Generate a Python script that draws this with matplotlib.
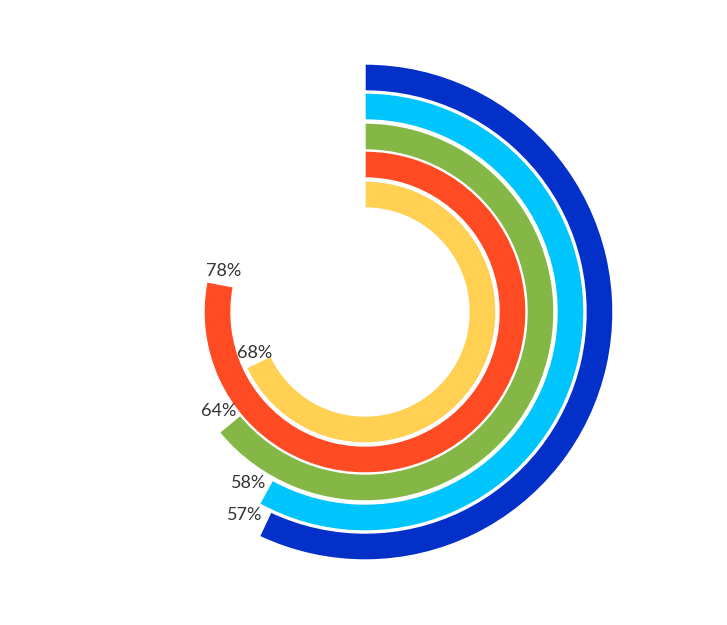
import numpy as np
import matplotlib.pyplot as plt

labels = ["57%", "58%", "64%", "78%", "68%"]
values = [57, 58, 64, 78, 68]
colors = ["#0330C8", "#00C5FC", "#84B746", "#FF4B24", "#FFD052"]

# ring geometry (outer ring first)
r_inner = [221, 192, 162, 134, 104]
ring_w = 27

fig = plt.figure(figsize=(7.27, 6.25), dpi=100)
R = 250
cx, cy = 365, 312
ax = fig.add_axes([(cx - R) / 727, (625 - cy - R) / 625, 2 * R / 727, 2 * R / 625],
                  projection="polar")
ax.set_theta_zero_location("N")
ax.set_theta_direction(-1)
ax.set_ylim(0, R)
ax.axis("off")

for v, lab, c, r0 in zip(values, labels, colors, r_inner):
    span = np.deg2rad(v / 100 * 360)
    ax.bar(span / 2, ring_w, width=span, bottom=r0, color=c,
           edgecolor="white", linewidth=1, align="center")
    rm = r0 + ring_w / 2
    ax.text(span + np.deg2rad(5.8), rm, lab, ha="center", va="center_baseline",
            fontsize=13, color="#333333", family="Lato")

fig.savefig("out.png", dpi=100)
